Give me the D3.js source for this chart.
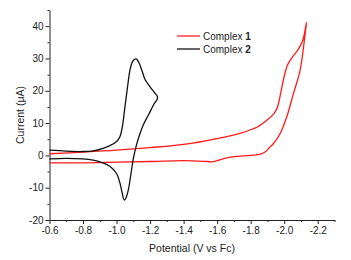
<!DOCTYPE html>
<html><head><meta charset="utf-8">
<script src="https://cdn.jsdelivr.net/npm/d3@7"></script>
<style>body{margin:0;background:#fff;} svg{display:block;} text{font-family:"Liberation Sans",Arial,sans-serif;}</style>
</head><body>
<svg id="c" width="351" height="260"></svg>
<script>
// Complex 2 (black) cyclic voltammogram: forward then reverse scan
const complex2V = [-0.60,-0.70,-0.80,-0.86,-0.92,-0.96,-1.00,-1.02,-1.035,-1.05,-1.065,-1.08,-1.095,-1.11,-1.12,-1.135,-1.15,-1.17,-1.20,-1.225,-1.245,
  -1.22,-1.19,-1.16,-1.14,-1.12,-1.10,-1.085,-1.07,-1.055,-1.045,-1.035,-1.02,-1.00,-0.97,-0.94,-0.90,-0.86,-0.80,-0.70,-0.60];
const complex2I = [1.6,1.3,1.2,1.4,2.2,3.0,4.3,5.8,9,15,21,26.4,29,29.8,29.8,28.5,26.5,23.5,21.2,19.5,17.9,
  15.6,12.5,9.5,6.8,3.5,-1,-6,-10.7,-13.3,-13.8,-12,-8.5,-5.6,-3.8,-2.8,-2.0,-1.5,-1.1,-0.9,-1.1];
// Complex 1 (red)
const complex1V = [-0.60,-0.80,-1.00,-1.20,-1.40,-1.60,-1.74,-1.84,-1.90,-1.94,-1.96,-1.98,-2.00,-2.02,-2.05,-2.08,-2.11,-2.133,
  -2.125,-2.095,-2.055,-2.015,-1.975,-1.935,-1.915,-1.89,-1.86,-1.80,-1.70,-1.64,-1.60,-1.57,-1.54,-1.40,-1.20,-1.00,-0.80,-0.60];
const complex1I = [0.5,1.0,1.6,2.4,3.4,5.2,6.9,8.8,11,13,15,19.5,24.5,28,30.5,32.5,35.5,41.2,
  37.7,26.4,19.1,11.9,6.7,3.6,2.6,1.2,0.4,0,-0.4,-1.0,-1.6,-2.0,-1.9,-1.6,-1.9,-2.1,-2.3,-2.3];
const xTicks = [-0.6,-0.8,-1.0,-1.2,-1.4,-1.6,-1.8,-2.0,-2.2];
const xMinor = [-0.7,-0.9,-1.1,-1.3,-1.5,-1.7,-1.9,-2.1,-2.3];
const yTicks = [-20,-10,0,10,20,30,40];
const yMinor = [-15,-5,5,15,25,35,45];
const seriesNames = ["1","2"];
const seriesColors = ["#ff1a1a","#111111"];

const svg = d3.select("#c");
const x = d3.scaleLinear().domain([-0.6,-2.3]).range([49.5,334.5]);
const y = d3.scaleLinear().domain([-20,45]).range([220,10]);

const fmt = d => d3.format(".1f")(d).replace("−","-");
const gx = svg.append("g").attr("transform","translate(0,220)")
  .call(d3.axisBottom(x).tickValues(xTicks).tickFormat(fmt).tickSize(4).tickSizeOuter(0));
svg.append("g").attr("transform","translate(0,220)")
  .call(d3.axisBottom(x).tickValues(xMinor).tickFormat("").tickSize(2).tickSizeOuter(0))
  .select(".domain").remove();
const gy = svg.append("g").attr("transform","translate(49.5,0)")
  .call(d3.axisLeft(y).tickValues(yTicks).tickFormat(d=>String(d)).tickSize(4).tickSizeOuter(0));
svg.append("g").attr("transform","translate(49.5,0)")
  .call(d3.axisLeft(y).tickValues(yMinor).tickFormat("").tickSize(2).tickSizeOuter(0))
  .select(".domain").remove();
svg.selectAll(".tick text").attr("font-size",10).attr("fill","#222").attr("font-family","Liberation Sans, Arial, sans-serif");
gx.selectAll(".tick text").attr("dy","0.95em").attr("y",4);
gy.selectAll(".tick text").attr("x",-6);
svg.selectAll(".domain, .tick line").attr("stroke","#222");

svg.append("text").attr("x",(49.5+334.5)/2).attr("y",252).attr("text-anchor","middle")
  .attr("font-size",10.5).attr("fill","#222").text("Potential (V vs Fc)");
svg.append("text").attr("transform","translate(24,115) rotate(-90)").attr("text-anchor","middle")
  .attr("font-size",10.5).attr("fill","#222").text("Current (μA)");

const line = d3.line().x(d=>x(d[0])).y(d=>y(d[1])).curve(d3.curveCatmullRom.alpha(0.5));
const d1 = complex1V.map((v,i)=>[v,complex1I[i]]);
const d2 = complex2V.map((v,i)=>[v,complex2I[i]]);
svg.append("path").attr("d",line(d1)).attr("fill","none").attr("stroke",seriesColors[0]).attr("stroke-width",1.3);
svg.append("path").attr("d",line(d2)).attr("fill","none").attr("stroke",seriesColors[1]).attr("stroke-width",1.3);

// legend
seriesNames.forEach((n,i)=>{
  const yy = 36 + i*13;
  svg.append("line").attr("x1",177).attr("x2",200).attr("y1",yy).attr("y2",yy)
    .attr("stroke",seriesColors[i]).attr("stroke-width",1.3);
  const t = svg.append("text").attr("x",203).attr("y",yy).attr("dy","0.35em")
    .attr("font-size",10).attr("fill","#222");
  t.append("tspan").text("Complex ");
  t.append("tspan").attr("font-weight","bold").text(n);
});
</script>
</body></html>
